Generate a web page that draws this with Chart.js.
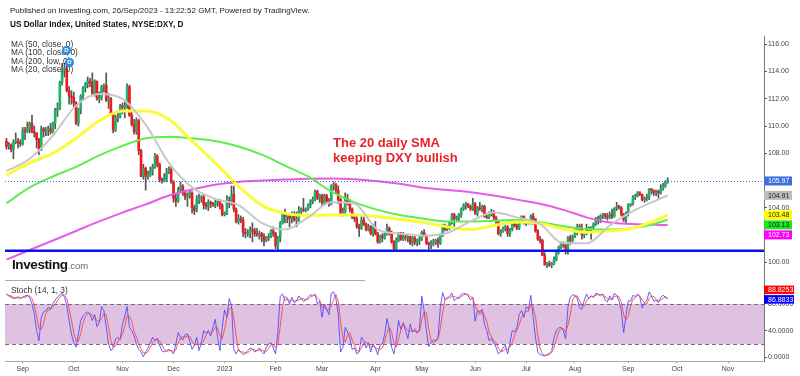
<!DOCTYPE html>
<html>
<head>
<meta charset="utf-8">
<title>US Dollar Index – DXY daily</title>
<script src="https://cdn.jsdelivr.net/npm/chart.js@4.4.0/dist/chart.umd.min.js"></script>
<style>
  html, body { margin:0; padding:0; background:#fff; }
  #wrap { position:relative; width:800px; height:376px; overflow:hidden; background:#fff; }
  #pricePane { position:absolute; left:0; top:0; width:800px; height:282px; }
  #stochPane { position:absolute; left:0; top:281px; width:800px; height:95px; }
  .t { position:absolute; white-space:nowrap; line-height:1; font-family:'Liberation Sans', Arial, sans-serif; color:#222; }
  .pub { left:10px; top:7.2px; font-size:8px; }
  .sym { left:10px; top:20.5px; font-size:8.2px; font-weight:bold; color:#111; }
  .legend { left:11px; top:39.5px; font-size:8.3px; line-height:8.5px; color:#333; }
  .note { left:333px; top:134.7px; font-size:13px; line-height:15px; font-weight:bold; color:#e8222a; }
  .logo { left:12px; top:258px; font-size:13.5px; font-weight:bold; color:#111; letter-spacing:-0.4px; }
  .logo span { font-size:9.5px; font-weight:normal; color:#666; letter-spacing:0; }
  .stochLbl { left:11px; top:286px; font-size:8.3px; color:#333; }
  .sep { position:absolute; left:5px; top:280px; width:360px; height:0; border-top:1px solid #aaa; }
  .mark { position:absolute; width:9px; height:9px; border-radius:50%; background:#2d8be8; color:#fff;
          font:bold 6px 'Liberation Sans', Arial, sans-serif; line-height:9px; text-align:center; }
</style>
</head>
<body>
<div id="wrap">
  <div id="pricePane"><canvas id="priceChart" width="800" height="282"></canvas></div>
  <div id="stochPane"><canvas id="stochChart" width="800" height="95"></canvas></div>

  <div class="t pub">Published on Investing.com, 26/Sep/2023 - 13:22:52 GMT, Powered by TradingView.</div>
  <div class="t sym">US Dollar Index, United States, NYSE:DXY, D</div>
  <div class="t legend">MA (50, close, 0)<br>MA (100, close, 0)<br>MA (200, low, 0)<br>MA (20, close, 0)</div>
  <div class="mark" style="left:62px;top:45.5px">D</div>
  <div class="mark" style="left:65px;top:57.5px">D</div>
  <div class="t note">The 20 daily SMA<br>keeping DXY bullish</div>
  <div class="t logo">Investing<span>.com</span></div>
  <div class="sep"></div>
  <div class="t stochLbl">Stoch (14, 1, 3)</div>
</div>

<script>
/* ════════════════════════════════════════════════
   DXY daily — candles + MA 20/50/100/200, Stoch (14,1,3)
   one bar per weekday, index 0 = 23 Aug 2022
══════════════════════════════════════════════════ */

// ── daily candles (one line per month) ──
const opens = [
  108.9,108.5,108.6,108.3,108.8,108.9,108.8,
  108.7,109.7,109.6,109.8,110.2,109.6,109.5,109.0,108.3,109.8,109.6,109.7,109.8,109.6,110.2,111.2,111.3,113.2,114.1,114.2,112.6,112.2,
  112.1,111.7,110.2,111.2,112.2,112.8,113.1,113.3,113.2,112.4,113.3,112.0,112.1,112.9,113.0,111.9,112.0,110.9,109.7,110.6,110.7,
  111.5,111.4,111.5,112.9,110.8,110.1,109.6,110.4,108.2,106.3,106.9,106.3,106.4,106.7,107.0,107.8,107.2,106.1,106.0,106.1,106.6,106.8,
  105.9,104.7,104.5,105.3,105.6,105.1,104.8,104.9,105.1,104.0,103.8,104.6,104.7,104.8,104.2,104.1,104.4,104.3,104.2,104.4,104.5,104.2,
  103.5,103.6,104.5,104.3,105.0,103.9,103.0,103.2,103.1,102.2,102.1,102.2,102.4,102.3,102.1,102.0,102.1,101.9,101.6,101.8,101.9,102.3,
  102.1,101.2,101.8,102.9,103.6,103.4,103.5,103.2,103.6,103.1,103.2,103.8,103.9,103.8,103.9,104.2,104.5,104.6,105.2,104.7,
  104.9,104.4,104.9,104.5,104.3,105.6,105.7,105.3,104.6,103.6,103.7,104.7,104.4,103.9,103.3,103.2,102.6,102.5,103.1,102.8,102.4,102.6,102.1,
  102.5,102.1,101.5,101.9,101.8,102.1,102.5,102.2,101.5,101.0,101.6,102.1,101.7,101.9,101.8,101.9,101.4,101.8,101.5,101.6,
  101.7,102.2,102.0,101.4,101.3,101.4,101.5,101.6,101.4,102.0,102.7,102.4,102.6,102.9,103.5,103.2,103.3,103.5,103.9,104.2,104.3,104.1,103.9,
  104.3,103.6,104.0,103.9,104.1,103.4,103.3,103.6,103.7,103.3,103.0,102.1,102.3,102.5,102.6,102.1,102.4,102.9,102.7,102.5,103.0,103.4,
  102.9,103.0,102.9,103.4,103.2,102.3,101.7,101.6,100.5,99.8,99.9,99.8,99.9,100.2,100.8,101.1,101.4,101.3,100.9,101.8,101.6,
  101.9,102.3,102.6,102.5,102.0,102.1,102.5,102.4,102.6,102.8,103.1,103.2,103.4,103.5,103.4,103.3,103.5,103.4,104.0,104.1,104.0,103.5,103.1,
  103.6,104.2,104.3,104.8,104.9,105.1,105.0,104.6,104.7,104.8,105.4,105.3,105.1,105.2,105.1,105.4,105.6,105.9
];
const highs = [
  109.1,108.8,108.7,109.0,109.5,109.1,109.0,
  109.9,109.9,110.3,110.3,110.8,110.0,109.5,109.1,110.0,109.9,109.9,110.0,110.2,110.3,111.3,111.7,113.3,114.6,114.6,114.8,112.9,112.6,
  112.5,111.8,111.3,112.3,112.9,113.2,113.6,113.5,113.9,113.4,113.3,112.5,113.0,113.1,113.9,112.4,112.1,111.0,110.8,111.1,111.6,
  111.7,111.8,113.1,113.0,111.1,110.5,110.6,110.5,108.3,107.2,107.0,106.7,107.0,107.2,108.0,107.9,107.3,106.2,106.5,106.9,107.0,107.1,
  106.0,105.0,105.5,105.9,105.7,105.3,105.1,105.2,105.2,104.2,104.9,105.0,104.9,105.0,104.4,104.6,104.5,104.4,104.6,104.6,104.6,104.3,
  103.7,104.9,104.8,105.6,105.6,104.0,103.5,103.4,103.3,102.5,102.4,102.6,102.9,102.5,102.5,102.3,102.2,102.1,101.9,102.1,102.4,102.6,
  102.2,101.9,103.0,103.7,103.9,103.6,103.6,103.7,103.7,103.7,104.1,104.0,104.7,104.0,104.3,104.6,104.8,105.3,105.3,105.0,
  105.0,105.0,105.0,104.7,105.7,105.9,105.8,105.6,104.7,104.0,105.1,105.0,104.6,104.0,103.5,103.4,102.8,103.4,103.3,102.9,102.8,102.7,102.8,
  103.0,102.2,102.0,102.1,102.2,102.8,102.6,102.3,101.6,101.8,102.2,102.2,102.2,102.0,102.0,101.9,101.9,101.9,101.7,101.9,
  102.3,102.4,102.0,101.5,101.6,101.7,101.7,101.8,102.1,102.8,102.8,102.7,103.0,103.6,103.6,103.4,103.6,104.0,104.3,104.4,104.3,104.2,104.7,
  104.4,104.1,104.4,104.2,104.2,103.5,103.7,103.9,103.8,103.4,103.1,102.4,102.6,102.7,102.7,102.5,103.0,102.9,102.8,103.1,103.4,103.4,
  103.1,103.1,103.5,103.6,103.2,102.4,101.9,101.7,100.7,100.0,100.1,100.0,100.4,100.9,101.2,101.5,101.5,101.4,101.9,102.0,102.0,
  102.4,102.8,102.8,102.8,102.2,102.8,102.6,102.6,102.9,103.3,103.4,103.5,103.6,103.6,103.6,103.7,103.9,104.0,104.4,104.2,104.1,103.6,103.7,
  104.3,104.3,104.9,105.0,105.2,105.2,105.0,104.8,105.0,105.4,105.4,105.3,105.3,105.3,105.7,105.8,106.0,106.2
];
const lows = [
  108.3,108.3,108.1,107.6,108.7,108.4,108.5,
  108.6,109.0,109.5,109.5,109.5,109.2,108.4,107.9,108.2,109.2,109.3,109.3,109.4,109.5,109.8,110.7,111.2,113.0,113.6,112.5,111.6,111.6,
  111.4,110.1,110.0,110.9,111.9,112.5,112.8,112.9,112.2,112.2,111.9,111.7,111.9,112.5,111.8,111.3,110.8,109.5,109.6,110.3,110.6,
  110.9,110.6,111.3,110.7,110.0,109.4,109.4,107.9,106.3,106.1,105.3,106.1,106.3,106.4,106.9,107.0,105.9,105.8,105.9,105.9,106.5,105.8,
  104.4,104.1,104.4,105.1,104.9,104.6,104.1,104.7,103.6,103.5,103.7,104.3,104.4,103.9,103.9,103.8,104.0,104.1,104.0,104.1,103.9,103.4,
  103.4,103.5,104.0,104.2,103.7,102.9,102.8,102.9,101.9,101.8,101.9,101.8,101.5,101.9,101.9,101.7,101.5,101.2,101.5,101.6,101.8,101.9,
  101.0,100.8,101.5,102.8,102.9,102.9,102.6,102.9,103.0,102.6,103.0,103.4,103.7,103.7,103.8,104.0,104.3,104.5,104.6,104.4,
  104.1,104.3,104.4,104.1,104.2,105.3,105.1,104.3,103.4,103.4,103.6,104.2,103.7,103.2,103.0,102.5,101.9,102.4,102.7,102.3,102.3,102.0,101.9,
  102.0,101.4,101.4,101.5,101.7,102.0,102.0,101.4,100.9,100.8,101.5,101.6,101.6,101.6,101.5,101.3,101.2,101.3,101.2,101.3,
  101.6,101.9,101.3,100.8,101.0,101.2,101.3,101.1,101.3,101.9,102.3,102.3,102.4,102.8,102.6,103.0,103.0,103.3,103.8,103.9,104.0,103.8,103.8,
  103.5,103.4,103.8,103.7,103.3,103.2,103.2,103.4,103.1,102.7,102.0,101.9,102.2,102.3,101.9,101.9,102.3,102.6,102.4,102.4,102.9,102.8,
  102.7,102.8,102.8,102.8,102.2,101.6,101.4,100.5,99.8,99.6,99.7,99.6,99.8,100.1,100.6,101.0,101.1,100.6,100.6,101.3,101.5,
  101.8,102.0,102.3,101.7,101.8,102.0,102.3,101.7,102.4,102.7,102.8,102.9,103.2,103.2,103.1,103.2,103.2,103.3,103.8,103.9,103.4,103.0,102.9,
  103.4,104.1,104.2,104.6,104.8,104.9,104.5,104.4,104.5,104.6,105.0,104.9,104.9,104.7,105.0,105.3,105.5,105.8
];
const closes = [
  108.5,108.6,108.3,108.8,108.9,108.8,108.7,
  109.7,109.6,109.8,110.2,109.6,109.5,109.0,108.3,109.8,109.6,109.7,109.8,109.6,110.2,111.2,111.3,113.2,114.1,114.2,112.6,112.2,112.1,
  111.7,110.2,111.2,112.2,112.8,113.1,113.3,113.2,112.4,113.3,112.0,112.1,112.9,113.0,111.9,112.0,110.9,109.7,110.6,110.7,111.5,
  111.4,111.5,112.9,110.8,110.1,109.6,110.4,108.2,106.3,106.9,106.3,106.4,106.7,107.0,107.8,107.2,106.1,106.0,106.1,106.6,106.8,105.9,
  104.7,104.5,105.3,105.6,105.1,104.8,104.9,105.1,104.0,103.8,104.6,104.7,104.8,104.2,104.1,104.4,104.3,104.2,104.4,104.5,104.2,103.5,
  103.6,104.5,104.3,105.0,103.9,103.0,103.2,103.1,102.2,102.1,102.2,102.4,102.3,102.1,102.0,102.1,101.9,101.6,101.8,101.9,102.3,102.1,
  101.2,101.8,102.9,103.6,103.4,103.5,103.2,103.6,103.1,103.2,103.8,103.9,103.8,103.9,104.2,104.5,104.6,105.2,104.7,104.9,
  104.4,104.9,104.5,104.3,105.6,105.7,105.3,104.6,103.6,103.7,104.7,104.4,103.9,103.3,103.2,102.6,102.5,103.1,102.8,102.4,102.6,102.1,102.5,
  102.1,101.5,101.9,101.8,102.1,102.5,102.2,101.5,101.0,101.6,102.1,101.7,101.9,101.8,101.9,101.4,101.8,101.5,101.6,101.7,
  102.2,102.0,101.4,101.3,101.4,101.5,101.6,101.4,102.0,102.7,102.4,102.6,102.9,103.5,103.2,103.3,103.5,103.9,104.2,104.3,104.1,103.9,104.3,
  103.6,104.0,103.9,104.1,103.4,103.3,103.6,103.7,103.3,103.0,102.1,102.3,102.5,102.6,102.1,102.4,102.9,102.7,102.5,103.0,103.4,102.9,
  103.0,102.9,103.4,103.2,102.3,101.7,101.6,100.5,99.8,99.9,99.8,99.9,100.2,100.8,101.1,101.4,101.3,100.9,101.8,101.6,101.9,
  102.3,102.6,102.5,102.0,102.1,102.5,102.4,102.6,102.8,103.1,103.2,103.4,103.5,103.4,103.3,103.5,103.4,104.0,104.1,104.0,103.5,103.1,103.6,
  104.2,104.3,104.8,104.9,105.1,105.0,104.6,104.7,104.8,105.4,105.3,105.1,105.2,105.1,105.4,105.6,105.9,105.97
];

// ── moving averages, read every 10 bars ──
const maIndex = [0,10,20,30,40,50,60,70,80,90,100,110,120,130,140,150,160,170,180,190,200,210,220,230,240,250,260,270,280,285];
const ma20  = [106.7,107.6,109.3,111.5,112.35,112.0,110.1,107.3,105.5,104.65,104.2,102.9,102.4,103.3,104.4,104.3,102.4,102.1,101.95,102.15,103.0,103.65,103.3,102.8,101.4,101.4,102.7,103.75,104.55,104.91];
const ma50  = [106.4,107.3,108.0,109.1,110.4,111.1,111.1,110.5,108.9,107.3,105.6,104.2,103.6,103.45,103.47,103.47,103.35,103.15,102.9,102.6,102.4,102.7,102.95,102.85,102.45,102.2,102.3,102.5,103.1,103.48];
const ma100 = [104.33,105.5,106.3,107.0,107.85,108.55,109.1,109.22,109.1,108.9,108.5,107.9,107.1,106.3,105.2,104.4,103.85,103.45,103.2,103.0,103.0,103.05,103.1,102.95,102.65,102.45,102.4,102.5,102.85,103.13];
const ma200 = [100.2,100.9,101.6,102.3,103.0,103.65,104.25,104.9,105.35,105.7,105.9,106.0,106.07,106.13,106.15,106.1,105.95,105.75,105.47,105.3,105.15,104.9,104.6,104.3,103.85,103.3,102.92,102.82,102.76,102.73];

// ── stochastic %K / %D, one value per bar ──
const stochK = [
  95,92,90,88,89,91,88,
  90,92,93,90,80,65,40,25,60,68,70,75,72,80,86,90,94,96,90,78,55,35,
  22,15,35,55,62,66,68,64,55,64,46,52,76,70,45,20,10,14,27,30,26,
  50,62,76,45,40,32,20,12,8,1,8,14,22,30,25,28,18,10,8,10,12,9,
  5,20,37,30,26,34,35,24,12,18,30,10,22,40,36,40,32,45,57,30,10,45,
  71,60,88,78,12,5,12,8,4,6,10,14,12,8,10,14,8,5,15,20,22,14,
  5,40,92,95,85,88,80,90,82,84,92,88,84,86,90,94,92,95,80,84,
  60,80,72,64,96,98,88,65,8,15,45,38,28,12,14,5,8,30,25,14,22,8,20,
  14,4,18,20,34,58,42,15,5,25,55,42,52,40,28,50,38,40,36,42,
  92,70,40,16,22,26,25,30,75,97,86,88,92,96,85,88,90,94,96,95,92,86,90,
  54,70,68,72,50,40,25,28,22,15,5,8,14,18,5,22,40,38,45,64,70,60,
  76,72,93,60,30,8,4,3,2,4,6,10,30,40,44,45,40,28,75,90,94,
  93,88,74,72,85,95,88,92,90,96,95,92,95,86,83,92,86,96,93,84,70,37,62,
  85,84,93,91,95,90,74,82,85,98,92,84,86,82,90,93,90,86.8833
];
const stochD = [
  94,93,92,90,89,89,89,
  90,90,92,92,88,78,62,43,42,51,66,71,72,76,79,85,90,93,93,88,74,56,
  37,24,24,35,51,61,65,66,62,61,55,54,58,66,64,45,25,15,17,24,28,
  35,46,63,61,54,39,31,21,13,7,6,8,15,22,26,28,24,19,12,9,10,10,
  9,11,21,29,31,30,32,31,24,18,20,19,21,24,33,39,36,39,45,44,32,28,
  42,59,73,75,59,32,10,8,8,6,7,10,12,11,10,11,11,9,9,13,19,19,
  14,20,46,76,91,89,84,86,84,85,86,88,88,86,87,90,92,94,89,86,
  75,75,71,72,77,86,94,84,54,29,23,33,37,26,18,10,9,14,21,23,20,15,17,
  14,13,12,14,24,37,45,38,21,15,28,41,50,45,40,39,39,43,38,39,
  57,68,67,42,26,21,24,27,43,67,86,90,89,92,91,90,88,91,93,95,94,91,89,
  77,71,64,70,63,54,38,31,25,22,14,9,9,13,12,15,22,33,41,49,60,65,
  69,69,80,75,61,33,14,5,3,3,4,7,15,27,38,43,43,38,48,64,86,
  92,92,85,78,77,84,89,92,90,93,94,94,94,91,88,87,87,91,92,91,82,64,56,
  61,77,87,89,93,92,86,82,80,88,92,91,87,84,86,88,91,88.8253
];

// ── axes ──
const monthTicks  = [7,29,50,72,94,116,136,159,179,202,224,245,268,289,311];
const monthLabels = ['Sep','Oct','Nov','Dec','2023','Feb','Mar','Apr','May','Jun','Jul','Aug','Sep','Oct','Nov'];
const priceTicks  = [100,102,104,106,108,110,112,114,116];
const stochTicks  = [0,40,80];
const supportLevel = 100.85;   // horizontal blue line
const stochBand    = [20,80];

(function () {
  if (!window.Chart) return;

  const COLORS = {
    up:     '#1db36a',
    down:   '#f2191c',
    wick:   '#555',
    ma20:   '#c8c8c8',
    ma50:   '#fbfb3c',
    ma100:  '#5cee4a',
    ma200:  '#e85ae8',
    level:  '#0b12f0',
    last:   '#3d6fdc',
    k:      'rgba(70,70,255,0.85)',
    d:      'rgba(255,60,60,0.85)',
    band:   'rgb(223,193,225)',
    axis:   '#777',
    text:   '#444',
  };

  Chart.defaults.font.family = "'Liberation Sans', Arial, sans-serif";
  Chart.defaults.color = COLORS.text;
  Chart.defaults.animation = false;
  Chart.defaults.plugins.legend.display = false;
  Chart.defaults.plugins.tooltip.enabled = false;

  // shared x mapping: bar i sits at 6.5 + 2.32*i px, plot ends at 764 px
  const X_MIN = -0.63, X_MAX = 326.5;

  // axes must not add their own label padding — both panes share one x mapping
  const fitRight = s => { s.width = 36; s.paddingTop = 0; s.paddingBottom = 0; };
  const fitBottom = s => { s.height = 15; s.paddingLeft = 0; s.paddingRight = 0; };

  const pts = (xs, ys) => xs.map((x, k) => ({ x, y: ys[k] }));
  const maLine = (data, color, width) => ({
    type: 'line', data: pts(maIndex, data), borderColor: color, borderWidth: width,
    pointRadius: 0, cubicInterpolationMode: 'monotone', order: 0,
  });

  // price tags stacked on the right axis
  function drawTags(chart, tags, w, h, font) {
    const { ctx, chartArea } = chart;
    const y = chart.scales.y;
    const placed = [];
    ctx.save();
    ctx.font = font;
    ctx.textBaseline = 'middle';
    tags.forEach(t => {
      let py = y.getPixelForValue(t.v);
      placed.forEach(p => {
        if (Math.abs(py - p.py) < h + 1) py = t.v > p.v ? p.py - (h + 1) : p.py + (h + 1);
      });
      placed.push({ v: t.v, py });
      ctx.fillStyle = t.bg;
      ctx.fillRect(chartArea.right, py - h / 2, w, h);
      ctx.fillStyle = t.fg;
      ctx.fillText(t.text, chartArea.right + 4, py + 0.5);
    });
    ctx.restore();
  }

  // ─────────────────── PRICE PANE ───────────────────
  const last = closes[closes.length - 1];
  const pricePlugin = {
    id: 'priceExtras',
    afterDatasetsDraw(chart) {
      const { ctx, chartArea } = chart;
      const y = chart.scales.y;
      ctx.save();
      // support line
      ctx.strokeStyle = COLORS.level;
      ctx.lineWidth = 2.5;
      ctx.beginPath();
      ctx.moveTo(chartArea.left, y.getPixelForValue(supportLevel));
      ctx.lineTo(chartArea.right, y.getPixelForValue(supportLevel));
      ctx.stroke();
      // last price dotted line
      ctx.strokeStyle = COLORS.last;
      ctx.lineWidth = 1;
      ctx.setLineDash([1, 2]);
      const ly = Math.round(y.getPixelForValue(last)) + 0.5;
      ctx.beginPath();
      ctx.moveTo(chartArea.left, ly);
      ctx.lineTo(chartArea.right, ly);
      ctx.stroke();
      ctx.restore();
    },
    afterDraw(chart) {
      drawTags(chart, [
        { v: last,                       text: last.toFixed(2),                       bg: COLORS.last, fg: '#fff' },
        { v: ma20[ma20.length - 1],      text: ma20[ma20.length - 1].toFixed(2),      bg: '#bdbdbd',   fg: '#222' },
        { v: ma50[ma50.length - 1],      text: ma50[ma50.length - 1].toFixed(2),      bg: '#ffff00',   fg: '#222' },
        { v: ma100[ma100.length - 1],    text: ma100[ma100.length - 1].toFixed(2),    bg: '#1ee61e',   fg: '#222' },
        { v: ma200[ma200.length - 1],    text: ma200[ma200.length - 1].toFixed(2),    bg: '#ff00ff',   fg: '#fff' },
      ], 28, 9, "7px 'Liberation Sans', Arial, sans-serif");
    },
  };

  new Chart(document.getElementById('priceChart'), {
    type: 'bar',
    data: {
      datasets: [
        maLine(ma20, COLORS.ma20, 2),
        maLine(ma50, COLORS.ma50, 3),
        maLine(ma100, COLORS.ma100, 2),
        maLine(ma200, COLORS.ma200, 2),
        {
          label: 'body', order: 1, grouped: false, barThickness: 2, minBarLength: 1,
          data: opens.map((o, i) => ({ x: i, y: [o, closes[i]] })),
          backgroundColor: closes.map((c, i) => c >= opens[i] ? COLORS.up : COLORS.down),
        },
        {
          label: 'wick', order: 2, grouped: false, barThickness: 1,
          data: highs.map((h, i) => ({ x: i, y: [lows[i], h] })),
          backgroundColor: COLORS.wick,
        },
      ],
    },
    options: {
      responsive: false,
      layout: { padding: { left: 5, top: 36, right: 0, bottom: 0 } },
      scales: {
        x: { type: 'linear', min: X_MIN, max: X_MAX, offset: false, display: false },
        y: {
          position: 'right', min: 98.555, max: 116.61,
          afterBuildTicks: s => { s.ticks = priceTicks.map(value => ({ value })); },
          afterFit: fitRight,
          ticks: { callback: v => v.toFixed(2), font: { size: 7 }, color: COLORS.text, padding: 1 },
          grid: { drawOnChartArea: false, tickLength: 3, color: '#555' },
          border: { color: COLORS.axis },
        },
      },
    },
    plugins: [pricePlugin],
  });

  // ─────────────────── STOCH PANE ───────────────────
  const stochPlugin = {
    id: 'stochExtras',
    beforeDatasetsDraw(chart) {
      const { ctx, chartArea } = chart;
      const y = chart.scales.y;
      const top = y.getPixelForValue(stochBand[1]);
      const bot = y.getPixelForValue(stochBand[0]);
      ctx.save();
      ctx.fillStyle = COLORS.band;
      ctx.fillRect(chartArea.left, top, chartArea.right - chartArea.left, bot - top);
      ctx.strokeStyle = '#7a6a7a';
      ctx.lineWidth = 1;
      ctx.setLineDash([4, 3]);
      [top, bot].forEach(py => {
        ctx.beginPath();
        ctx.moveTo(chartArea.left, Math.round(py) + 0.5);
        ctx.lineTo(chartArea.right, Math.round(py) + 0.5);
        ctx.stroke();
      });
      ctx.restore();
    },
    afterDraw(chart) {
      drawTags(chart, [
        { v: stochK[stochK.length - 1], text: stochK[stochK.length - 1].toFixed(4), bg: '#0000ff', fg: '#fff' },
        { v: stochD[stochD.length - 1], text: stochD[stochD.length - 1].toFixed(4), bg: '#ff0000', fg: '#fff' },
      ], 30, 8.5, "7px 'Liberation Sans', Arial, sans-serif");
    },
  };

  new Chart(document.getElementById('stochChart'), {
    type: 'line',
    data: {
      datasets: [
        { label: '%D', data: stochD.map((v, i) => ({ x: i, y: v })), borderColor: COLORS.d, borderWidth: 1, pointRadius: 0, tension: 0 },
        { label: '%K', data: stochK.map((v, i) => ({ x: i, y: v })), borderColor: COLORS.k, borderWidth: 1, pointRadius: 0, tension: 0 },
      ],
    },
    options: {
      responsive: false,
      layout: { padding: { left: 5, top: 0, right: 0, bottom: 0 } },
      scales: {
        x: {
          type: 'linear', min: X_MIN, max: X_MAX,
          afterBuildTicks: s => { s.ticks = monthTicks.map(value => ({ value })); },
          afterFit: fitBottom,
          ticks: { callback: (v, i) => monthLabels[i], autoSkip: false, maxRotation: 0, font: { size: 7 }, color: COLORS.text, padding: 2 },
          grid: { drawOnChartArea: false, tickLength: 2, color: '#999' },
          border: { color: '#aaa' },
        },
        y: {
          position: 'right', min: -5.55, max: 114.4,
          afterBuildTicks: s => { s.ticks = stochTicks.map(value => ({ value })); },
          afterFit: fitRight,
          ticks: { callback: v => v.toFixed(4), font: { size: 7 }, color: COLORS.text, padding: 1 },
          grid: { drawOnChartArea: false, tickLength: 3, color: '#555' },
          border: { color: COLORS.axis },
        },
      },
    },
    plugins: [stochPlugin],
  });
})();
</script>
</body>
</html>
